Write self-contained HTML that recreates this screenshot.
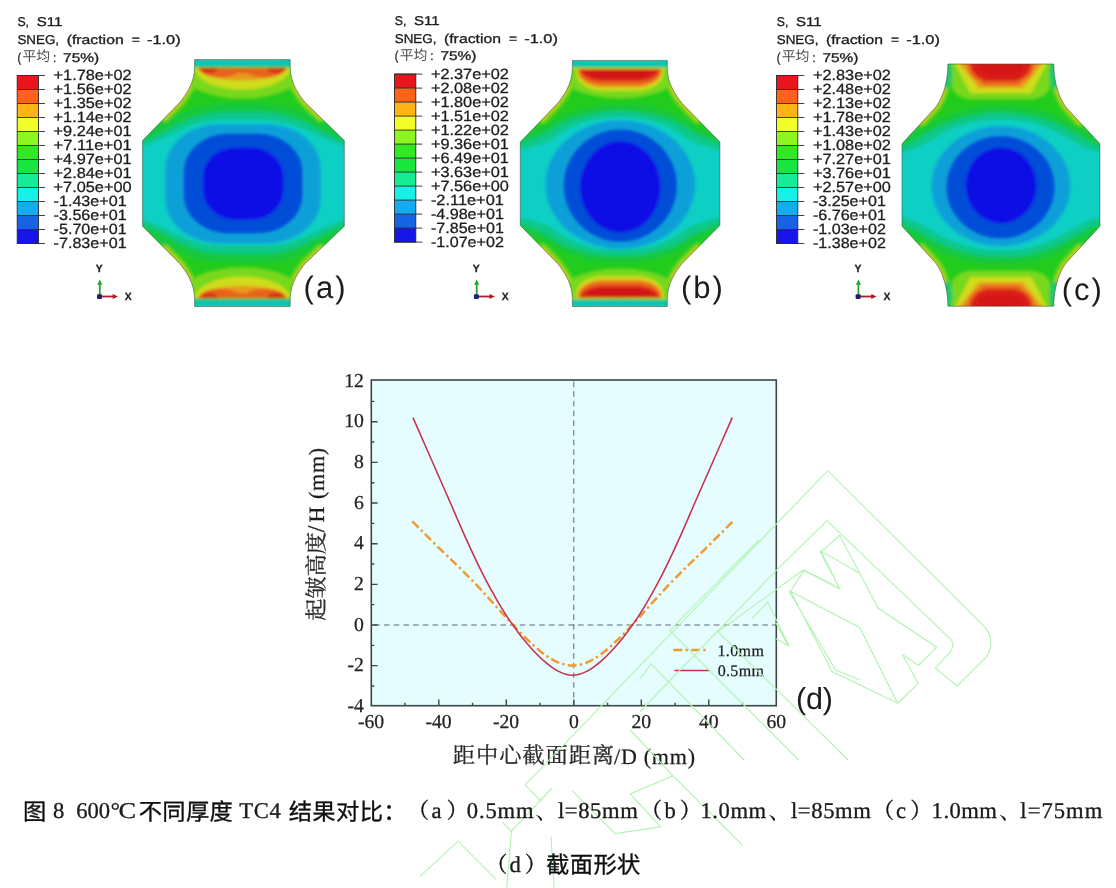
<!DOCTYPE html>
<html lang="zh">
<head>
<meta charset="utf-8">
<title>图8 600℃不同厚度TC4结果对比</title>
<style>
html,body{margin:0;padding:0;background:#fff;}
body{width:1116px;height:888px;overflow:hidden;font-family:"Liberation Sans",sans-serif;}
figure{margin:0;padding:0;width:1116px;height:888px;position:relative;}
svg{display:block;position:absolute;left:0;top:0;}
text{font-family:"Liberation Sans",sans-serif;fill:#1c1c1c;text-rendering:geometricPrecision;}
.lh{font-size:12.8px;stroke:#1c1c1c;stroke-width:.32px;}
.lv{font-size:14.8px;stroke:#1c1c1c;stroke-width:.28px;}
.tl{font-size:10.4px;font-weight:bold;fill:#222;stroke:#222;stroke-width:.25px;}
.pl{font-size:32.5px;fill:#1a1a1a;}
.serif{font-family:"Liberation Serif",serif;}
.tk{font-family:"Liberation Serif",serif;font-size:19.7px;fill:#222;stroke:#222;stroke-width:.25px;}
</style>
</head>
<body>
<figure>
<svg width="1116" height="888" viewBox="0 0 1116 888">
<rect width="1116" height="888" fill="#fff"/>
<filter id="jpg" x="0" y="0" width="1116" height="888" filterUnits="userSpaceOnUse"><feGaussianBlur stdDeviation="0.42"/></filter>
<g filter="url(#jpg)">
<!--PANELS-->
<defs><filter id="soft" x="-5%" y="-5%" width="110%" height="110%"><feGaussianBlur stdDeviation="1.6"/></filter></defs>
<clipPath id="clip-a"><path d="M194.6 59.6 H290.2 V67.4 C290.4 83.4 299.0 94.8 305.2 102.6 L344.3 140.5 V226.3 L305.2 263.5 C299.0 271.3 290.4 282.7 290.2 298.7 V306.5 H194.6 V298.7 C194.4 282.7 185.8 271.3 179.6 263.5 L142.6 226.3 V140.5 L179.6 102.6 C185.8 94.8 194.4 83.4 194.6 67.4 Z"/></clipPath>
<g clip-path="url(#clip-a)"><g filter="url(#soft)">
<rect x="112.6" y="29.6" width="261.7" height="306.9" fill="#24cc1c"/>
<path d="M130.0 136.0 C132.1 120.0 137.6 136.0 142.6 134.0 C147.6 132.0 154.1 127.2 160.0 124.0 C165.9 120.8 171.7 117.3 178.0 114.5 C184.3 111.7 191.2 108.8 198.0 107.0 C204.8 105.2 211.4 104.7 219.0 104.0 C226.6 103.3 235.3 103.0 243.4 103.0 C251.5 103.0 260.2 103.3 267.8 104.0 C275.4 104.7 282.0 105.2 288.8 107.0 C295.6 108.8 302.5 111.7 308.8 114.5 C315.1 117.3 320.9 120.8 326.8 124.0 C332.7 127.2 339.2 132.0 344.2 134.0 C349.2 136.0 354.7 120.0 356.8 136.0 C358.9 152.0 358.9 214.0 356.8 230.0 C354.7 246.0 349.2 230.0 344.2 232.0 C339.2 234.0 332.7 238.8 326.8 242.0 C320.9 245.2 315.1 248.7 308.8 251.5 C302.5 254.3 295.6 257.2 288.8 259.0 C282.0 260.8 279.4 261.5 267.8 262.0 C256.2 262.5 230.6 262.5 219.0 262.0 C207.4 261.5 204.8 260.8 198.0 259.0 C191.2 257.2 184.3 254.3 178.0 251.5 C171.7 248.7 165.9 245.2 160.0 242.0 C154.1 238.8 147.6 234.0 142.6 232.0 C137.6 230.0 132.1 246.0 130.0 230.0 C127.9 214.0 127.9 152.0 130.0 136.0 Z" fill="#14c83c"/>
<path d="M130.0 143.0 C132.1 129.2 137.0 142.4 142.6 140.5 C148.2 138.6 157.3 134.4 163.3 131.5 C169.3 128.6 172.7 126.0 178.6 123.3 C184.5 120.6 192.1 117.2 198.8 115.4 C205.5 113.6 211.6 112.9 219.0 112.2 C226.4 111.5 235.3 111.2 243.4 111.2 C251.5 111.2 260.4 111.5 267.8 112.2 C275.2 112.9 281.3 113.6 288.0 115.4 C294.7 117.2 302.3 120.6 308.2 123.3 C314.1 126.0 317.5 128.6 323.5 131.5 C329.5 134.4 338.7 138.6 344.2 140.5 C349.8 142.4 354.7 129.2 356.8 143.0 C358.9 156.8 358.9 209.2 356.8 223.0 C354.7 236.8 349.8 223.6 344.2 225.5 C338.7 227.4 329.5 231.6 323.5 234.5 C317.5 237.4 314.1 240.0 308.2 242.7 C302.3 245.4 294.7 248.8 288.0 250.6 C281.3 252.4 279.3 253.3 267.8 253.8 C256.3 254.3 230.5 254.3 219.0 253.8 C207.5 253.3 205.5 252.4 198.8 250.6 C192.1 248.8 184.5 245.4 178.6 242.7 C172.7 240.0 169.3 237.4 163.3 234.5 C157.3 231.6 148.1 227.4 142.6 225.5 C137.0 223.6 132.1 236.8 130.0 223.0 C127.9 209.2 127.9 156.8 130.0 143.0 Z" fill="#10c888"/>
<path d="M130.0 148.0 C132.1 136.0 137.6 147.4 142.6 146.0 C147.6 144.6 154.1 142.0 160.0 139.5 C165.9 137.0 171.7 133.7 178.0 131.0 C184.3 128.3 191.2 125.3 198.0 123.5 C204.8 121.7 211.4 121.0 219.0 120.3 C226.6 119.6 235.3 119.3 243.4 119.3 C251.5 119.3 260.2 119.6 267.8 120.3 C275.4 121.0 282.0 121.7 288.8 123.5 C295.6 125.3 302.5 128.3 308.8 131.0 C315.1 133.7 320.9 137.0 326.8 139.5 C332.7 142.0 339.2 144.6 344.2 146.0 C349.2 147.4 354.7 136.0 356.8 148.0 C358.9 160.0 358.9 206.0 356.8 218.0 C354.7 230.0 349.2 218.6 344.2 220.0 C339.2 221.4 332.7 224.0 326.8 226.5 C320.9 229.0 315.1 232.3 308.8 235.0 C302.5 237.7 295.6 240.7 288.8 242.5 C282.0 244.3 279.4 245.2 267.8 245.7 C256.2 246.2 230.6 246.2 219.0 245.7 C207.4 245.2 204.8 244.3 198.0 242.5 C191.2 240.7 184.3 237.7 178.0 235.0 C171.7 232.3 165.9 229.0 160.0 226.5 C154.1 224.0 147.6 221.4 142.6 220.0 C137.6 218.6 132.1 230.0 130.0 218.0 C127.9 206.0 127.9 160.0 130.0 148.0 Z" fill="#0ccfc4"/>
<rect x="165.4" y="124.2" width="155.2" height="119.2" rx="54.0" ry="44.0" fill="#0aa0d8"/>
<rect x="183.6" y="133.6" width="119.0" height="99.8" rx="44.0" ry="38.0" fill="#064ed8"/>
<rect x="203.0" y="147.4" width="80.6" height="72.4" rx="32.0" ry="30.0" fill="#0c10e6"/>
<path d="M194.6 67.4 C194.4 83.4 185.8 94.8 179.6 102.6 L164.8 117.8 M194.6 298.7 C194.4 282.7 185.8 271.3 179.6 263.5 L164.8 248.6 M290.2 67.4 C290.4 83.4 299.0 94.8 305.2 102.6 L320.8 117.8 M290.2 298.7 C290.4 282.7 299.0 271.3 305.2 263.5 L320.8 248.6" fill="none" stroke="#78d81c" stroke-width="9.2" stroke-linecap="round" opacity=".8"/>
<path d="M194.6 67.4 C194.4 83.4 185.8 94.8 179.6 102.6 L164.8 117.8 M194.6 298.7 C194.4 282.7 185.8 271.3 179.6 263.5 L164.8 248.6 M290.2 67.4 C290.4 83.4 299.0 94.8 305.2 102.6 L320.8 117.8 M290.2 298.7 C290.4 282.7 299.0 271.3 305.2 263.5 L320.8 248.6" fill="none" stroke="#cfdc1c" stroke-width="3.2" stroke-linecap="round"/>
<path d="M194.6 67.4 C194.4 83.4 185.8 94.8 179.6 102.6 L164.8 117.8 M194.6 298.7 C194.4 282.7 185.8 271.3 179.6 263.5 L164.8 248.6 M290.2 67.4 C290.4 83.4 299.0 94.8 305.2 102.6 L320.8 117.8 M290.2 298.7 C290.4 282.7 299.0 271.3 305.2 263.5 L320.8 248.6" fill="none" stroke="#e89a1c" stroke-width="1.3" stroke-linecap="round"/>
<ellipse cx="242.4" cy="67.8" rx="64.0" ry="30.5" fill="#78d81c"/>
<ellipse cx="242.4" cy="67.8" rx="47.5" ry="21.8" fill="#cfdc1c"/>
<ellipse cx="242.4" cy="67.8" rx="44.5" ry="12.6" fill="#e89a1c"/>
<ellipse cx="242.4" cy="67.8" rx="41.0" ry="5.4" fill="#e8621c"/>
<ellipse cx="219.9" cy="67.8" rx="21.0" ry="9.6" fill="#e8621c"/>
<ellipse cx="264.9" cy="67.8" rx="21.0" ry="9.6" fill="#e8621c"/>
<ellipse cx="208.9" cy="68.6" rx="8.6" ry="4.4" fill="#dc2a18"/>
<ellipse cx="275.9" cy="68.6" rx="8.6" ry="4.4" fill="#dc2a18"/>
<rect x="189.6" y="58.4" width="105.6" height="9.4" fill="#24cc1c"/>
<rect x="189.6" y="58.4" width="105.6" height="7.6" fill="#10c4b8"/>
<g transform="translate(0 366.10) scale(1 -1)"><ellipse cx="242.4" cy="67.8" rx="64.0" ry="30.5" fill="#78d81c"/><ellipse cx="242.4" cy="67.8" rx="47.5" ry="21.8" fill="#cfdc1c"/><ellipse cx="242.4" cy="67.8" rx="44.5" ry="12.6" fill="#e89a1c"/><ellipse cx="242.4" cy="67.8" rx="41.0" ry="5.4" fill="#e8621c"/><ellipse cx="219.9" cy="67.8" rx="21.0" ry="9.6" fill="#e8621c"/><ellipse cx="264.9" cy="67.8" rx="21.0" ry="9.6" fill="#e8621c"/><ellipse cx="208.9" cy="68.6" rx="8.6" ry="4.4" fill="#dc2a18"/><ellipse cx="275.9" cy="68.6" rx="8.6" ry="4.4" fill="#dc2a18"/><rect x="189.6" y="58.4" width="105.6" height="9.4" fill="#24cc1c"/><rect x="189.6" y="58.4" width="105.6" height="7.6" fill="#10c4b8"/></g>
</g></g>
<path d="M194.6 59.6 H290.2 V67.4 C290.4 83.4 299.0 94.8 305.2 102.6 L344.3 140.5 V226.3 L305.2 263.5 C299.0 271.3 290.4 282.7 290.2 298.7 V306.5 H194.6 V298.7 C194.4 282.7 185.8 271.3 179.6 263.5 L142.6 226.3 V140.5 L179.6 102.6 C185.8 94.8 194.4 83.4 194.6 67.4 Z" fill="none" stroke="#28503a" stroke-opacity=".6" stroke-width=".9"/>
<clipPath id="clip-b"><path d="M572.4 60.4 H667.3 V68.2 C667.5 84.2 676.1 95.8 682.3 103.6 L719.9 142.0 V225.4 L682.3 263.3 C676.1 271.1 667.5 282.7 667.3 298.7 V306.5 H572.4 V298.7 C572.2 282.7 563.6 271.1 557.4 263.3 L520.3 225.4 V142.0 L557.4 103.6 C563.6 95.8 572.2 84.2 572.4 68.2 Z"/></clipPath>
<g clip-path="url(#clip-b)"><g filter="url(#soft)">
<rect x="490.3" y="30.4" width="259.6" height="306.1" fill="#24cc1c"/>
<path d="M508.0 138.0 C510.1 122.5 515.0 137.7 520.3 136.0 C525.6 134.3 533.4 131.2 540.0 128.0 C546.6 124.8 553.3 120.1 560.0 117.0 C566.7 113.9 573.3 111.4 580.0 109.5 C586.7 107.6 593.3 106.3 600.0 105.5 C606.7 104.7 613.3 104.5 620.0 104.5 C626.7 104.5 633.3 104.7 640.0 105.5 C646.7 106.3 653.3 107.6 660.0 109.5 C666.7 111.4 673.3 113.9 680.0 117.0 C686.7 120.1 693.4 124.8 700.0 128.0 C706.6 131.2 714.4 134.3 719.7 136.0 C725.0 137.7 730.0 122.5 732.0 138.0 C734.0 153.5 734.0 213.7 732.0 229.2 C730.0 244.7 725.0 229.5 719.7 231.2 C714.4 232.9 706.6 236.0 700.0 239.2 C693.4 242.4 686.7 247.1 680.0 250.2 C673.3 253.3 666.7 255.8 660.0 257.7 C653.3 259.6 650.0 261.0 640.0 261.7 C630.0 262.4 610.0 262.4 600.0 261.7 C590.0 261.0 586.7 259.6 580.0 257.7 C573.3 255.8 566.7 253.3 560.0 250.2 C553.3 247.1 546.6 242.4 540.0 239.2 C533.4 236.0 525.6 232.9 520.3 231.2 C515.0 229.5 510.1 244.7 508.0 229.2 C505.9 213.7 505.9 153.5 508.0 138.0 Z" fill="#14c83c"/>
<path d="M508.0 146.0 C510.1 133.0 516.3 144.2 520.3 143.0 C524.3 141.8 528.0 140.4 532.0 138.8 C536.0 137.2 538.9 136.3 544.4 133.5 C549.9 130.7 557.9 124.8 564.7 121.8 C571.5 118.8 578.2 116.9 585.0 115.2 C591.8 113.5 599.4 112.5 605.2 111.7 C611.0 110.9 615.1 110.6 620.0 110.6 C624.9 110.6 629.0 110.9 634.8 111.7 C640.6 112.5 648.2 113.5 655.0 115.2 C661.8 116.9 668.5 118.8 675.3 121.8 C682.1 124.8 690.1 130.7 695.6 133.5 C701.1 136.3 704.0 137.2 708.0 138.8 C712.0 140.4 715.7 141.8 719.7 143.0 C723.7 144.2 730.0 133.0 732.0 146.0 C734.0 159.0 734.0 208.2 732.0 221.2 C730.0 234.2 723.7 223.0 719.7 224.2 C715.7 225.4 712.0 226.8 708.0 228.4 C704.0 230.0 701.1 230.9 695.6 233.7 C690.1 236.5 682.1 242.3 675.3 245.4 C668.5 248.4 661.8 250.3 655.0 252.0 C648.2 253.7 643.1 254.9 634.8 255.5 C626.5 256.1 613.5 256.1 605.2 255.5 C596.9 254.9 591.8 253.7 585.0 252.0 C578.2 250.3 571.5 248.4 564.7 245.4 C557.9 242.3 549.9 236.5 544.4 233.7 C538.9 230.9 536.0 230.0 532.0 228.4 C528.0 226.8 524.3 225.4 520.3 224.2 C516.3 223.0 510.1 234.2 508.0 221.2 C505.9 208.2 505.9 159.0 508.0 146.0 Z" fill="#10c888"/>
<path d="M508.0 152.0 C510.0 141.1 515.5 151.0 520.0 150.0 C524.5 149.0 530.1 147.6 535.0 146.0 C539.9 144.4 544.5 143.2 549.5 140.6 C554.5 138.0 558.8 133.5 564.7 130.4 C570.6 127.3 578.3 123.9 585.0 121.8 C591.7 119.7 599.2 118.8 605.0 118.0 C610.8 117.2 615.0 116.7 620.0 116.7 C625.0 116.7 629.2 117.2 635.0 118.0 C640.8 118.8 648.3 119.7 655.0 121.8 C661.7 123.9 669.4 127.3 675.3 130.4 C681.2 133.5 685.5 138.0 690.5 140.6 C695.5 143.2 700.1 144.4 705.0 146.0 C709.9 147.6 715.5 149.0 720.0 150.0 C724.5 151.0 730.0 141.1 732.0 152.0 C734.0 162.9 734.0 204.3 732.0 215.2 C730.0 226.1 724.5 216.2 720.0 217.2 C715.5 218.2 709.9 219.6 705.0 221.2 C700.1 222.8 695.5 224.0 690.5 226.6 C685.5 229.2 681.2 233.7 675.3 236.8 C669.4 239.9 661.7 243.3 655.0 245.4 C648.3 247.5 643.3 248.6 635.0 249.2 C626.7 249.8 613.3 249.8 605.0 249.2 C596.7 248.6 591.7 247.5 585.0 245.4 C578.3 243.3 570.6 239.9 564.7 236.8 C558.8 233.7 554.5 229.2 549.5 226.6 C544.5 224.0 539.9 222.8 535.0 221.2 C530.1 219.6 524.5 218.2 520.0 217.2 C515.5 216.2 510.0 226.1 508.0 215.2 C506.0 204.3 506.0 162.9 508.0 152.0 Z" fill="#0ccfc4"/>
<ellipse cx="620.3" cy="184.6" rx="75.0" ry="64.4" fill="#0aa0d8"/>
<ellipse cx="620.3" cy="185.6" rx="56.8" ry="56.4" fill="#064ed8"/>
<ellipse cx="620.3" cy="186.9" rx="40.3" ry="45.6" fill="#0c10e6"/>
<path d="M572.4 68.2 C572.2 84.2 563.6 95.8 557.4 103.6 L542.6 119.0 M572.4 298.7 C572.2 282.7 563.6 271.1 557.4 263.3 L542.6 248.1 M667.3 68.2 C667.5 84.2 676.1 95.8 682.3 103.6 L697.3 119.0 M667.3 298.7 C667.5 282.7 676.1 271.1 682.3 263.3 L697.3 248.1" fill="none" stroke="#78d81c" stroke-width="9.2" stroke-linecap="round" opacity=".8"/>
<path d="M572.4 68.2 C572.2 84.2 563.6 95.8 557.4 103.6 L542.6 119.0 M572.4 298.7 C572.2 282.7 563.6 271.1 557.4 263.3 L542.6 248.1 M667.3 68.2 C667.5 84.2 676.1 95.8 682.3 103.6 L697.3 119.0 M667.3 298.7 C667.5 282.7 676.1 271.1 682.3 263.3 L697.3 248.1" fill="none" stroke="#cfdc1c" stroke-width="3.2" stroke-linecap="round"/>
<path d="M572.4 68.2 C572.2 84.2 563.6 95.8 557.4 103.6 L542.6 119.0 M572.4 298.7 C572.2 282.7 563.6 271.1 557.4 263.3 L542.6 248.1 M667.3 68.2 C667.5 84.2 676.1 95.8 682.3 103.6 L697.3 119.0 M667.3 298.7 C667.5 282.7 676.1 271.1 682.3 263.3 L697.3 248.1" fill="none" stroke="#e89a1c" stroke-width="1.3" stroke-linecap="round"/>
<ellipse cx="619.8" cy="68.4" rx="64.0" ry="29.5" fill="#78d81c"/>
<rect x="576.3" y="54.4" width="87.0" height="36.3" rx="27.0" ry="17.0" fill="#cfdc1c"/>
<rect x="577.8" y="54.4" width="84.0" height="33.0" rx="26.0" ry="15.5" fill="#e89a1c"/>
<rect x="578.8" y="54.4" width="82.0" height="30.6" rx="25.0" ry="14.5" fill="#e8621c"/>
<rect x="580.0" y="54.4" width="79.6" height="26.6" rx="24.0" ry="13.0" fill="#da1c16"/>
<ellipse cx="619.8" cy="73.4" rx="31.0" ry="4.6" fill="#d01212"/>
<rect x="567.4" y="59.2" width="104.9" height="9.9" fill="#cfdc1c"/>
<rect x="567.4" y="59.2" width="104.9" height="8.8" fill="#24cc1c"/>
<rect x="567.4" y="59.2" width="104.9" height="7.4" fill="#10c4b8"/>
<g transform="translate(0 366.90) scale(1 -1)"><ellipse cx="619.8" cy="68.4" rx="64.0" ry="29.5" fill="#78d81c"/><rect x="576.3" y="54.4" width="87.0" height="36.3" rx="27.0" ry="17.0" fill="#cfdc1c"/><rect x="577.8" y="54.4" width="84.0" height="33.0" rx="26.0" ry="15.5" fill="#e89a1c"/><rect x="578.8" y="54.4" width="82.0" height="30.6" rx="25.0" ry="14.5" fill="#e8621c"/><rect x="580.0" y="54.4" width="79.6" height="26.6" rx="24.0" ry="13.0" fill="#da1c16"/><ellipse cx="619.8" cy="73.4" rx="31.0" ry="4.6" fill="#d01212"/><rect x="567.4" y="59.2" width="104.9" height="9.9" fill="#cfdc1c"/><rect x="567.4" y="59.2" width="104.9" height="8.8" fill="#24cc1c"/><rect x="567.4" y="59.2" width="104.9" height="7.4" fill="#10c4b8"/></g>
</g></g>
<path d="M572.4 60.4 H667.3 V68.2 C667.5 84.2 676.1 95.8 682.3 103.6 L719.9 142.0 V225.4 L682.3 263.3 C676.1 271.1 667.5 282.7 667.3 298.7 V306.5 H572.4 V298.7 C572.2 282.7 563.6 271.1 557.4 263.3 L520.3 225.4 V142.0 L557.4 103.6 C563.6 95.8 572.2 84.2 572.4 68.2 Z" fill="none" stroke="#28503a" stroke-opacity=".6" stroke-width=".9"/>
<clipPath id="clip-c"><path d="M947.9 64.0 H1053.8 V64.5 C1054.0 86.5 1061.3 101.3 1066.3 107.5 L1099.9 143.8 V226.2 L1066.3 262.7 C1061.3 268.9 1054.0 283.7 1053.8 305.7 V306.2 H947.9 V305.7 C947.7 283.7 940.4 268.9 935.4 262.7 L902.0 226.2 V143.8 L935.4 107.5 C940.4 101.3 947.7 86.5 947.9 64.5 Z"/></clipPath>
<g clip-path="url(#clip-c)"><g filter="url(#soft)">
<rect x="872.0" y="34.0" width="257.9" height="302.2" fill="#24cc1c"/>
<path d="M890.0 140.0 C892.0 124.7 897.0 139.8 902.0 138.0 C907.0 136.2 913.7 132.2 920.0 129.0 C926.3 125.8 933.3 121.5 940.0 118.5 C946.7 115.5 953.3 112.9 960.0 111.0 C966.7 109.1 973.2 107.8 980.0 107.0 C986.8 106.2 993.9 106.0 1000.9 106.0 C1007.9 106.0 1015.0 106.2 1021.8 107.0 C1028.6 107.8 1035.1 109.1 1041.8 111.0 C1048.5 112.9 1055.1 115.5 1061.8 118.5 C1068.5 121.5 1075.5 125.8 1081.8 129.0 C1088.1 132.2 1094.8 136.2 1099.8 138.0 C1104.8 139.8 1109.8 124.7 1111.8 140.0 C1113.8 155.3 1113.8 214.7 1111.8 230.0 C1109.8 245.3 1104.8 230.2 1099.8 232.0 C1094.8 233.8 1088.1 237.8 1081.8 241.0 C1075.5 244.2 1068.5 248.5 1061.8 251.5 C1055.1 254.5 1048.5 257.1 1041.8 259.0 C1035.1 260.9 1032.1 262.3 1021.8 263.0 C1011.5 263.7 990.3 263.7 980.0 263.0 C969.7 262.3 966.7 260.9 960.0 259.0 C953.3 257.1 946.7 254.5 940.0 251.5 C933.3 248.5 926.3 244.2 920.0 241.0 C913.7 237.8 907.0 233.8 902.0 232.0 C897.0 230.2 892.0 245.3 890.0 230.0 C888.0 214.7 888.0 155.3 890.0 140.0 Z" fill="#14c83c"/>
<path d="M890.0 147.5 C892.0 134.7 898.3 146.7 902.3 145.5 C906.3 144.3 910.0 142.5 914.0 140.5 C918.0 138.5 920.9 136.4 926.4 133.5 C931.9 130.6 939.9 126.1 946.7 123.3 C953.5 120.5 960.2 118.4 967.0 116.7 C973.8 115.0 981.6 113.9 987.2 113.2 C992.9 112.5 996.3 112.4 1000.9 112.4 C1005.5 112.4 1008.9 112.5 1014.6 113.2 C1020.2 113.9 1028.0 115.0 1034.8 116.7 C1041.5 118.4 1048.3 120.5 1055.1 123.3 C1061.9 126.1 1070.0 130.6 1075.4 133.5 C1080.9 136.4 1083.8 138.5 1087.8 140.5 C1091.8 142.5 1095.5 144.3 1099.5 145.5 C1103.5 146.7 1109.8 134.7 1111.8 147.5 C1113.8 160.3 1113.8 209.7 1111.8 222.5 C1109.8 235.3 1103.5 223.3 1099.5 224.5 C1095.5 225.7 1091.8 227.5 1087.8 229.5 C1083.8 231.5 1080.9 233.6 1075.4 236.5 C1070.0 239.4 1061.9 243.9 1055.1 246.7 C1048.3 249.5 1041.5 251.6 1034.8 253.3 C1028.0 255.0 1022.5 256.2 1014.6 256.8 C1006.7 257.4 995.1 257.4 987.2 256.8 C979.3 256.2 973.8 255.0 967.0 253.3 C960.2 251.6 953.5 249.5 946.7 246.7 C939.9 243.9 931.8 239.4 926.4 236.5 C920.9 233.6 918.0 231.5 914.0 229.5 C910.0 227.5 906.3 225.7 902.3 224.5 C898.3 223.3 892.0 235.3 890.0 222.5 C888.0 209.7 888.0 160.3 890.0 147.5 Z" fill="#10c888"/>
<path d="M890.0 155.0 C892.0 144.7 898.0 154.0 902.0 153.0 C906.0 152.0 909.9 150.7 914.0 149.0 C918.1 147.3 920.9 145.5 926.4 142.6 C931.9 139.7 939.9 134.5 946.7 131.4 C953.5 128.3 960.3 125.7 967.0 123.8 C973.7 121.9 981.4 121.0 987.0 120.3 C992.6 119.6 996.3 119.5 1000.9 119.5 C1005.5 119.5 1009.1 119.6 1014.8 120.3 C1020.4 121.0 1028.1 121.9 1034.8 123.8 C1041.5 125.7 1048.3 128.3 1055.1 131.4 C1061.9 134.5 1070.0 139.7 1075.4 142.6 C1080.9 145.5 1083.7 147.3 1087.8 149.0 C1091.9 150.7 1095.8 152.0 1099.8 153.0 C1103.8 154.0 1109.8 144.7 1111.8 155.0 C1113.8 165.3 1113.8 204.7 1111.8 215.0 C1109.8 225.3 1103.8 216.0 1099.8 217.0 C1095.8 218.0 1091.9 219.3 1087.8 221.0 C1083.7 222.7 1080.9 224.5 1075.4 227.4 C1070.0 230.3 1061.9 235.5 1055.1 238.6 C1048.3 241.7 1041.5 244.3 1034.8 246.2 C1028.1 248.0 1022.8 249.1 1014.8 249.7 C1006.8 250.3 995.0 250.3 987.0 249.7 C979.0 249.1 973.7 248.0 967.0 246.2 C960.3 244.3 953.5 241.7 946.7 238.6 C939.9 235.5 931.8 230.3 926.4 227.4 C920.9 224.5 918.1 222.7 914.0 221.0 C909.9 219.3 906.0 218.0 902.0 217.0 C898.0 216.0 892.0 225.3 890.0 215.0 C888.0 204.7 888.0 165.3 890.0 155.0 Z" fill="#0ccfc4"/>
<ellipse cx="1000.9" cy="186.0" rx="69.6" ry="60.2" fill="#0aa0d8"/>
<ellipse cx="1000.5" cy="187.2" rx="54.3" ry="51.4" fill="#064ed8"/>
<ellipse cx="1001.1" cy="185.4" rx="35.4" ry="38.0" fill="#0c10e6"/>
<path d="M947.9 64.5 C947.7 86.5 940.4 101.3 935.4 107.5 L922.0 122.0 M947.9 305.7 C947.7 283.7 940.4 268.9 935.4 262.7 L922.0 248.1 M1053.8 64.5 C1054.0 86.5 1061.3 101.3 1066.3 107.5 L1079.7 122.0 M1053.8 305.7 C1054.0 283.7 1061.3 268.9 1066.3 262.7 L1079.7 248.1" fill="none" stroke="#78d81c" stroke-width="9.2" stroke-linecap="round" opacity=".8"/>
<path d="M947.9 64.5 C947.7 86.5 940.4 101.3 935.4 107.5 L922.0 122.0 M947.9 305.7 C947.7 283.7 940.4 268.9 935.4 262.7 L922.0 248.1 M1053.8 64.5 C1054.0 86.5 1061.3 101.3 1066.3 107.5 L1079.7 122.0 M1053.8 305.7 C1054.0 283.7 1061.3 268.9 1066.3 262.7 L1079.7 248.1" fill="none" stroke="#cfdc1c" stroke-width="3.2" stroke-linecap="round"/>
<path d="M947.9 64.5 C947.7 86.5 940.4 101.3 935.4 107.5 L922.0 122.0 M947.9 305.7 C947.7 283.7 940.4 268.9 935.4 262.7 L922.0 248.1 M1053.8 64.5 C1054.0 86.5 1061.3 101.3 1066.3 107.5 L1079.7 122.0 M1053.8 305.7 C1054.0 283.7 1061.3 268.9 1066.3 262.7 L1079.7 248.1" fill="none" stroke="#e89a1c" stroke-width="1.3" stroke-linecap="round"/>
<rect x="951.9" y="52.0" width="97.9" height="47.3" rx="22.0" ry="14.0" fill="#78d81c"/>
<path d="M954.9 58.0 L1046.8 58.0 L1029.8 90.6 L971.9 90.6 Z" fill="#cfdc1c" stroke="#cfdc1c" stroke-width="5" stroke-linejoin="round"/>
<path d="M957.9 58.0 L1043.8 58.0 L1021.8 85.5 L979.9 85.5 Z" fill="#e89a1c" stroke="#e89a1c" stroke-width="5" stroke-linejoin="round"/>
<path d="M963.9 58.0 L1037.8 58.0 L1017.8 82.5 L983.9 82.5 Z" fill="#e8621c" stroke="#e8621c" stroke-width="5" stroke-linejoin="round"/>
<rect x="967.3" y="44.0" width="67.0" height="39.6" rx="22.0" ry="20.0" fill="#e8621c"/>
<rect x="970.6" y="44.0" width="60.4" height="37.0" rx="20.0" ry="18.0" fill="#da1c16"/>
<ellipse cx="1000.8" cy="68.0" rx="22.0" ry="7.0" fill="#d41414"/>
<ellipse cx="946.9" cy="74.0" rx="5.5" ry="15.0" fill="#22c86a"/>
<ellipse cx="1054.8" cy="74.0" rx="5.5" ry="15.0" fill="#22c86a"/>
<g transform="translate(0 370.20) scale(1 -1)"><rect x="951.9" y="52.0" width="97.9" height="47.3" rx="22.0" ry="14.0" fill="#78d81c"/><path d="M954.9 58.0 L1046.8 58.0 L1029.8 90.6 L971.9 90.6 Z" fill="#cfdc1c" stroke="#cfdc1c" stroke-width="5" stroke-linejoin="round"/><path d="M957.9 58.0 L1043.8 58.0 L1021.8 85.5 L979.9 85.5 Z" fill="#e89a1c" stroke="#e89a1c" stroke-width="5" stroke-linejoin="round"/><path d="M963.9 58.0 L1037.8 58.0 L1017.8 82.5 L983.9 82.5 Z" fill="#e8621c" stroke="#e8621c" stroke-width="5" stroke-linejoin="round"/><rect x="967.3" y="44.0" width="67.0" height="39.6" rx="22.0" ry="20.0" fill="#e8621c"/><rect x="970.6" y="44.0" width="60.4" height="37.0" rx="20.0" ry="18.0" fill="#da1c16"/><ellipse cx="1000.8" cy="68.0" rx="22.0" ry="7.0" fill="#d41414"/><ellipse cx="946.9" cy="74.0" rx="5.5" ry="15.0" fill="#22c86a"/><ellipse cx="1054.8" cy="74.0" rx="5.5" ry="15.0" fill="#22c86a"/></g>
</g></g>
<path d="M947.9 64.0 H1053.8 V64.5 C1054.0 86.5 1061.3 101.3 1066.3 107.5 L1099.9 143.8 V226.2 L1066.3 262.7 C1061.3 268.9 1054.0 283.7 1053.8 305.7 V306.2 H947.9 V305.7 C947.7 283.7 940.4 268.9 935.4 262.7 L902.0 226.2 V143.8 L935.4 107.5 C940.4 101.3 947.7 86.5 947.9 64.5 Z" fill="none" stroke="#28503a" stroke-opacity=".6" stroke-width=".9"/>
<g class="legend" transform="translate(0.0 0.0)">
<text class="lh" x="17.4" y="26.3" textLength="11.6" lengthAdjust="spacingAndGlyphs">S,</text>
<text class="lh" x="36.7" y="26.3" textLength="25.7" lengthAdjust="spacingAndGlyphs">S11</text>
<text class="lh" x="17.4" y="44.0" textLength="41.7" lengthAdjust="spacingAndGlyphs">SNEG,</text>
<text class="lh" x="66.7" y="44.0" textLength="57.0" lengthAdjust="spacingAndGlyphs">(fraction</text>
<text class="lh" x="131.7" y="44.0" textLength="8.1" lengthAdjust="spacingAndGlyphs">=</text>
<text class="lh" x="147.0" y="44.0" textLength="33.6" lengthAdjust="spacingAndGlyphs">-1.0)</text>
<text class="lh" x="17.4" y="61.6" textLength="3.6" lengthAdjust="spacingAndGlyphs">(</text>
<text x="22.40" y="61.20" style="font-family:'Liberation Sans','Noto Sans CJK SC',sans-serif;font-size:13.90px;fill:#4a4a4a">平均</text>
<text class="lh" x="53.2" y="61.6" textLength="2.8" lengthAdjust="spacingAndGlyphs">:</text>
<text class="lh" x="63.1" y="61.6" textLength="36.0" lengthAdjust="spacingAndGlyphs">75%)</text>
<rect x="17.2" y="75.50" width="21.3" height="14.00" fill="#e8141a"/>
<rect x="17.2" y="89.50" width="21.3" height="14.00" fill="#ff6418"/>
<rect x="17.2" y="103.50" width="21.3" height="14.00" fill="#ffb414"/>
<rect x="17.2" y="117.50" width="21.3" height="14.00" fill="#f2ff28"/>
<rect x="17.2" y="131.50" width="21.3" height="14.00" fill="#8cf520"/>
<rect x="17.2" y="145.50" width="21.3" height="14.00" fill="#30e820"/>
<rect x="17.2" y="159.50" width="21.3" height="14.00" fill="#14e63c"/>
<rect x="17.2" y="173.50" width="21.3" height="14.00" fill="#14eb96"/>
<rect x="17.2" y="187.50" width="21.3" height="14.00" fill="#14f0e6"/>
<rect x="17.2" y="201.50" width="21.3" height="14.00" fill="#14aaf0"/>
<rect x="17.2" y="215.50" width="21.3" height="14.00" fill="#1464e6"/>
<rect x="17.2" y="229.50" width="21.3" height="14.00" fill="#1414e6"/>
<rect x="17.2" y="75.50" width="21.3" height="168.00" fill="none" stroke="#2a2a2a" stroke-width="0.9"/>
<line x1="17.2" x2="45" y1="75.50" y2="75.50" stroke="#2a2a2a" stroke-width="0.9"/>
<line x1="17.2" x2="45" y1="89.50" y2="89.50" stroke="#2a2a2a" stroke-width="0.9"/>
<line x1="17.2" x2="45" y1="103.50" y2="103.50" stroke="#2a2a2a" stroke-width="0.9"/>
<line x1="17.2" x2="45" y1="117.50" y2="117.50" stroke="#2a2a2a" stroke-width="0.9"/>
<line x1="17.2" x2="45" y1="131.50" y2="131.50" stroke="#2a2a2a" stroke-width="0.9"/>
<line x1="17.2" x2="45" y1="145.50" y2="145.50" stroke="#2a2a2a" stroke-width="0.9"/>
<line x1="17.2" x2="45" y1="159.50" y2="159.50" stroke="#2a2a2a" stroke-width="0.9"/>
<line x1="17.2" x2="45" y1="173.50" y2="173.50" stroke="#2a2a2a" stroke-width="0.9"/>
<line x1="17.2" x2="45" y1="187.50" y2="187.50" stroke="#2a2a2a" stroke-width="0.9"/>
<line x1="17.2" x2="45" y1="201.50" y2="201.50" stroke="#2a2a2a" stroke-width="0.9"/>
<line x1="17.2" x2="45" y1="215.50" y2="215.50" stroke="#2a2a2a" stroke-width="0.9"/>
<line x1="17.2" x2="45" y1="229.50" y2="229.50" stroke="#2a2a2a" stroke-width="0.9"/>
<line x1="17.2" x2="45" y1="243.50" y2="243.50" stroke="#2a2a2a" stroke-width="0.9"/>
<text class="lv" x="53.6" y="80.00" textLength="78.0" lengthAdjust="spacingAndGlyphs">+1.78e+02</text>
<text class="lv" x="53.6" y="94.00" textLength="78.0" lengthAdjust="spacingAndGlyphs">+1.56e+02</text>
<text class="lv" x="53.6" y="108.00" textLength="78.0" lengthAdjust="spacingAndGlyphs">+1.35e+02</text>
<text class="lv" x="53.6" y="122.00" textLength="78.0" lengthAdjust="spacingAndGlyphs">+1.14e+02</text>
<text class="lv" x="53.6" y="136.00" textLength="78.0" lengthAdjust="spacingAndGlyphs">+9.24e+01</text>
<text class="lv" x="53.6" y="150.00" textLength="78.0" lengthAdjust="spacingAndGlyphs">+7.11e+01</text>
<text class="lv" x="53.6" y="164.00" textLength="78.0" lengthAdjust="spacingAndGlyphs">+4.97e+01</text>
<text class="lv" x="53.6" y="178.00" textLength="78.0" lengthAdjust="spacingAndGlyphs">+2.84e+01</text>
<text class="lv" x="53.6" y="192.00" textLength="78.0" lengthAdjust="spacingAndGlyphs">+7.05e+00</text>
<text class="lv" x="53.6" y="206.00" textLength="73.0" lengthAdjust="spacingAndGlyphs">-1.43e+01</text>
<text class="lv" x="53.6" y="220.00" textLength="73.0" lengthAdjust="spacingAndGlyphs">-3.56e+01</text>
<text class="lv" x="53.6" y="234.00" textLength="73.0" lengthAdjust="spacingAndGlyphs">-5.70e+01</text>
<text class="lv" x="53.6" y="248.00" textLength="73.0" lengthAdjust="spacingAndGlyphs">-7.83e+01</text>
</g>
<g class="triad" transform="translate(0.0 0)">
<text class="tl" x="99.3" y="271.6" text-anchor="middle">Y</text>
<text class="tl" x="128.3" y="300.2" text-anchor="middle">X</text>
<path d="M99.8 296 V283" stroke="#25a52c" stroke-width="1.8" fill="none"/>
<path d="M99.8 279.6 l2.6 5.2 h-5.2 z" fill="#25a52c"/>
<path d="M100 296.5 H113.5" stroke="#b01c24" stroke-width="1.8" fill="none"/>
<path d="M118 296.5 l-5.4 -2.5 v5 z" fill="#b01c24"/>
<rect x="97" y="294.2" width="5" height="4.8" rx="1" fill="#1d2470"/>
</g>
<g class="legend" transform="translate(377.3 -1.4)">
<text class="lh" x="17.4" y="26.3" textLength="11.6" lengthAdjust="spacingAndGlyphs">S,</text>
<text class="lh" x="36.7" y="26.3" textLength="25.7" lengthAdjust="spacingAndGlyphs">S11</text>
<text class="lh" x="17.4" y="44.0" textLength="41.7" lengthAdjust="spacingAndGlyphs">SNEG,</text>
<text class="lh" x="66.7" y="44.0" textLength="57.0" lengthAdjust="spacingAndGlyphs">(fraction</text>
<text class="lh" x="131.7" y="44.0" textLength="8.1" lengthAdjust="spacingAndGlyphs">=</text>
<text class="lh" x="147.0" y="44.0" textLength="33.6" lengthAdjust="spacingAndGlyphs">-1.0)</text>
<text class="lh" x="17.4" y="61.6" textLength="3.6" lengthAdjust="spacingAndGlyphs">(</text>
<text x="22.40" y="61.20" style="font-family:'Liberation Sans','Noto Sans CJK SC',sans-serif;font-size:13.90px;fill:#4a4a4a">平均</text>
<text class="lh" x="53.2" y="61.6" textLength="2.8" lengthAdjust="spacingAndGlyphs">:</text>
<text class="lh" x="63.1" y="61.6" textLength="36.0" lengthAdjust="spacingAndGlyphs">75%)</text>
<rect x="17.2" y="75.50" width="21.3" height="14.00" fill="#e8141a"/>
<rect x="17.2" y="89.50" width="21.3" height="14.00" fill="#ff6418"/>
<rect x="17.2" y="103.50" width="21.3" height="14.00" fill="#ffb414"/>
<rect x="17.2" y="117.50" width="21.3" height="14.00" fill="#f2ff28"/>
<rect x="17.2" y="131.50" width="21.3" height="14.00" fill="#8cf520"/>
<rect x="17.2" y="145.50" width="21.3" height="14.00" fill="#30e820"/>
<rect x="17.2" y="159.50" width="21.3" height="14.00" fill="#14e63c"/>
<rect x="17.2" y="173.50" width="21.3" height="14.00" fill="#14eb96"/>
<rect x="17.2" y="187.50" width="21.3" height="14.00" fill="#14f0e6"/>
<rect x="17.2" y="201.50" width="21.3" height="14.00" fill="#14aaf0"/>
<rect x="17.2" y="215.50" width="21.3" height="14.00" fill="#1464e6"/>
<rect x="17.2" y="229.50" width="21.3" height="14.00" fill="#1414e6"/>
<rect x="17.2" y="75.50" width="21.3" height="168.00" fill="none" stroke="#2a2a2a" stroke-width="0.9"/>
<line x1="17.2" x2="45" y1="75.50" y2="75.50" stroke="#2a2a2a" stroke-width="0.9"/>
<line x1="17.2" x2="45" y1="89.50" y2="89.50" stroke="#2a2a2a" stroke-width="0.9"/>
<line x1="17.2" x2="45" y1="103.50" y2="103.50" stroke="#2a2a2a" stroke-width="0.9"/>
<line x1="17.2" x2="45" y1="117.50" y2="117.50" stroke="#2a2a2a" stroke-width="0.9"/>
<line x1="17.2" x2="45" y1="131.50" y2="131.50" stroke="#2a2a2a" stroke-width="0.9"/>
<line x1="17.2" x2="45" y1="145.50" y2="145.50" stroke="#2a2a2a" stroke-width="0.9"/>
<line x1="17.2" x2="45" y1="159.50" y2="159.50" stroke="#2a2a2a" stroke-width="0.9"/>
<line x1="17.2" x2="45" y1="173.50" y2="173.50" stroke="#2a2a2a" stroke-width="0.9"/>
<line x1="17.2" x2="45" y1="187.50" y2="187.50" stroke="#2a2a2a" stroke-width="0.9"/>
<line x1="17.2" x2="45" y1="201.50" y2="201.50" stroke="#2a2a2a" stroke-width="0.9"/>
<line x1="17.2" x2="45" y1="215.50" y2="215.50" stroke="#2a2a2a" stroke-width="0.9"/>
<line x1="17.2" x2="45" y1="229.50" y2="229.50" stroke="#2a2a2a" stroke-width="0.9"/>
<line x1="17.2" x2="45" y1="243.50" y2="243.50" stroke="#2a2a2a" stroke-width="0.9"/>
<text class="lv" x="53.6" y="80.00" textLength="78.0" lengthAdjust="spacingAndGlyphs">+2.37e+02</text>
<text class="lv" x="53.6" y="94.00" textLength="78.0" lengthAdjust="spacingAndGlyphs">+2.08e+02</text>
<text class="lv" x="53.6" y="108.00" textLength="78.0" lengthAdjust="spacingAndGlyphs">+1.80e+02</text>
<text class="lv" x="53.6" y="122.00" textLength="78.0" lengthAdjust="spacingAndGlyphs">+1.51e+02</text>
<text class="lv" x="53.6" y="136.00" textLength="78.0" lengthAdjust="spacingAndGlyphs">+1.22e+02</text>
<text class="lv" x="53.6" y="150.00" textLength="78.0" lengthAdjust="spacingAndGlyphs">+9.36e+01</text>
<text class="lv" x="53.6" y="164.00" textLength="78.0" lengthAdjust="spacingAndGlyphs">+6.49e+01</text>
<text class="lv" x="53.6" y="178.00" textLength="78.0" lengthAdjust="spacingAndGlyphs">+3.63e+01</text>
<text class="lv" x="53.6" y="192.00" textLength="78.0" lengthAdjust="spacingAndGlyphs">+7.56e+00</text>
<text class="lv" x="53.6" y="206.00" textLength="73.0" lengthAdjust="spacingAndGlyphs">-2.11e+01</text>
<text class="lv" x="53.6" y="220.00" textLength="73.0" lengthAdjust="spacingAndGlyphs">-4.98e+01</text>
<text class="lv" x="53.6" y="234.00" textLength="73.0" lengthAdjust="spacingAndGlyphs">-7.85e+01</text>
<text class="lv" x="53.6" y="248.00" textLength="73.0" lengthAdjust="spacingAndGlyphs">-1.07e+02</text>
</g>
<g class="triad" transform="translate(376.9 0)">
<text class="tl" x="99.3" y="271.6" text-anchor="middle">Y</text>
<text class="tl" x="128.3" y="300.2" text-anchor="middle">X</text>
<path d="M99.8 296 V283" stroke="#25a52c" stroke-width="1.8" fill="none"/>
<path d="M99.8 279.6 l2.6 5.2 h-5.2 z" fill="#25a52c"/>
<path d="M100 296.5 H113.5" stroke="#b01c24" stroke-width="1.8" fill="none"/>
<path d="M118 296.5 l-5.4 -2.5 v5 z" fill="#b01c24"/>
<rect x="97" y="294.2" width="5" height="4.8" rx="1" fill="#1d2470"/>
</g>
<g class="legend" transform="translate(759.3 0.0)">
<text class="lh" x="17.4" y="26.3" textLength="11.6" lengthAdjust="spacingAndGlyphs">S,</text>
<text class="lh" x="36.7" y="26.3" textLength="25.7" lengthAdjust="spacingAndGlyphs">S11</text>
<text class="lh" x="17.4" y="44.0" textLength="41.7" lengthAdjust="spacingAndGlyphs">SNEG,</text>
<text class="lh" x="66.7" y="44.0" textLength="57.0" lengthAdjust="spacingAndGlyphs">(fraction</text>
<text class="lh" x="131.7" y="44.0" textLength="8.1" lengthAdjust="spacingAndGlyphs">=</text>
<text class="lh" x="147.0" y="44.0" textLength="33.6" lengthAdjust="spacingAndGlyphs">-1.0)</text>
<text class="lh" x="17.4" y="61.6" textLength="3.6" lengthAdjust="spacingAndGlyphs">(</text>
<text x="22.40" y="61.20" style="font-family:'Liberation Sans','Noto Sans CJK SC',sans-serif;font-size:13.90px;fill:#4a4a4a">平均</text>
<text class="lh" x="53.2" y="61.6" textLength="2.8" lengthAdjust="spacingAndGlyphs">:</text>
<text class="lh" x="63.1" y="61.6" textLength="36.0" lengthAdjust="spacingAndGlyphs">75%)</text>
<rect x="17.2" y="75.50" width="21.3" height="14.00" fill="#e8141a"/>
<rect x="17.2" y="89.50" width="21.3" height="14.00" fill="#ff6418"/>
<rect x="17.2" y="103.50" width="21.3" height="14.00" fill="#ffb414"/>
<rect x="17.2" y="117.50" width="21.3" height="14.00" fill="#f2ff28"/>
<rect x="17.2" y="131.50" width="21.3" height="14.00" fill="#8cf520"/>
<rect x="17.2" y="145.50" width="21.3" height="14.00" fill="#30e820"/>
<rect x="17.2" y="159.50" width="21.3" height="14.00" fill="#14e63c"/>
<rect x="17.2" y="173.50" width="21.3" height="14.00" fill="#14eb96"/>
<rect x="17.2" y="187.50" width="21.3" height="14.00" fill="#14f0e6"/>
<rect x="17.2" y="201.50" width="21.3" height="14.00" fill="#14aaf0"/>
<rect x="17.2" y="215.50" width="21.3" height="14.00" fill="#1464e6"/>
<rect x="17.2" y="229.50" width="21.3" height="14.00" fill="#1414e6"/>
<rect x="17.2" y="75.50" width="21.3" height="168.00" fill="none" stroke="#2a2a2a" stroke-width="0.9"/>
<line x1="17.2" x2="45" y1="75.50" y2="75.50" stroke="#2a2a2a" stroke-width="0.9"/>
<line x1="17.2" x2="45" y1="89.50" y2="89.50" stroke="#2a2a2a" stroke-width="0.9"/>
<line x1="17.2" x2="45" y1="103.50" y2="103.50" stroke="#2a2a2a" stroke-width="0.9"/>
<line x1="17.2" x2="45" y1="117.50" y2="117.50" stroke="#2a2a2a" stroke-width="0.9"/>
<line x1="17.2" x2="45" y1="131.50" y2="131.50" stroke="#2a2a2a" stroke-width="0.9"/>
<line x1="17.2" x2="45" y1="145.50" y2="145.50" stroke="#2a2a2a" stroke-width="0.9"/>
<line x1="17.2" x2="45" y1="159.50" y2="159.50" stroke="#2a2a2a" stroke-width="0.9"/>
<line x1="17.2" x2="45" y1="173.50" y2="173.50" stroke="#2a2a2a" stroke-width="0.9"/>
<line x1="17.2" x2="45" y1="187.50" y2="187.50" stroke="#2a2a2a" stroke-width="0.9"/>
<line x1="17.2" x2="45" y1="201.50" y2="201.50" stroke="#2a2a2a" stroke-width="0.9"/>
<line x1="17.2" x2="45" y1="215.50" y2="215.50" stroke="#2a2a2a" stroke-width="0.9"/>
<line x1="17.2" x2="45" y1="229.50" y2="229.50" stroke="#2a2a2a" stroke-width="0.9"/>
<line x1="17.2" x2="45" y1="243.50" y2="243.50" stroke="#2a2a2a" stroke-width="0.9"/>
<text class="lv" x="53.6" y="80.00" textLength="78.0" lengthAdjust="spacingAndGlyphs">+2.83e+02</text>
<text class="lv" x="53.6" y="94.00" textLength="78.0" lengthAdjust="spacingAndGlyphs">+2.48e+02</text>
<text class="lv" x="53.6" y="108.00" textLength="78.0" lengthAdjust="spacingAndGlyphs">+2.13e+02</text>
<text class="lv" x="53.6" y="122.00" textLength="78.0" lengthAdjust="spacingAndGlyphs">+1.78e+02</text>
<text class="lv" x="53.6" y="136.00" textLength="78.0" lengthAdjust="spacingAndGlyphs">+1.43e+02</text>
<text class="lv" x="53.6" y="150.00" textLength="78.0" lengthAdjust="spacingAndGlyphs">+1.08e+02</text>
<text class="lv" x="53.6" y="164.00" textLength="78.0" lengthAdjust="spacingAndGlyphs">+7.27e+01</text>
<text class="lv" x="53.6" y="178.00" textLength="78.0" lengthAdjust="spacingAndGlyphs">+3.76e+01</text>
<text class="lv" x="53.6" y="192.00" textLength="78.0" lengthAdjust="spacingAndGlyphs">+2.57e+00</text>
<text class="lv" x="53.6" y="206.00" textLength="73.0" lengthAdjust="spacingAndGlyphs">-3.25e+01</text>
<text class="lv" x="53.6" y="220.00" textLength="73.0" lengthAdjust="spacingAndGlyphs">-6.76e+01</text>
<text class="lv" x="53.6" y="234.00" textLength="73.0" lengthAdjust="spacingAndGlyphs">-1.03e+02</text>
<text class="lv" x="53.6" y="248.00" textLength="73.0" lengthAdjust="spacingAndGlyphs">-1.38e+02</text>
</g>
<g class="triad" transform="translate(758.6 0)">
<text class="tl" x="99.3" y="271.6" text-anchor="middle">Y</text>
<text class="tl" x="128.3" y="300.2" text-anchor="middle">X</text>
<path d="M99.8 296 V283" stroke="#25a52c" stroke-width="1.8" fill="none"/>
<path d="M99.8 279.6 l2.6 5.2 h-5.2 z" fill="#25a52c"/>
<path d="M100 296.5 H113.5" stroke="#b01c24" stroke-width="1.8" fill="none"/>
<path d="M118 296.5 l-5.4 -2.5 v5 z" fill="#b01c24"/>
<rect x="97" y="294.2" width="5" height="4.8" rx="1" fill="#1d2470"/>
</g>
<text x="303.58" y="298.00" style="font-family:'Liberation Sans',sans-serif;font-size:31.00px;letter-spacing:2.03px" fill="#161616">(a)</text>
<text x="680.88" y="298.20" style="font-family:'Liberation Sans',sans-serif;font-size:31.00px;letter-spacing:2.08px" fill="#161616">(b)</text>
<text x="1061.78" y="299.70" style="font-family:'Liberation Sans',sans-serif;font-size:31.00px;letter-spacing:2.00px" fill="#161616">(c)</text>
<!--CHART-->
<g class="chart">
<rect x="371.3" y="380.0" width="405.0" height="325.7" fill="#e6fdff"/>
<path d="M374.3 625.0 H776.3" stroke="#5a6674" stroke-width="1.0" stroke-dasharray="5.6 4.1" fill="none"/>
<path d="M573.8 381.5 V705.7" stroke="#5a6674" stroke-width="1.0" stroke-dasharray="5.6 4.1" fill="none"/>
<path d="M412.31 521.32 C414.27 523.28 419.90 528.91 424.12 533.11 C428.34 537.31 433.12 542.11 437.62 546.53 C442.12 550.94 447.74 556.34 451.12 559.60 C454.49 562.86 455.62 563.91 457.87 566.10 C460.12 568.30 462.37 570.52 464.62 572.77 C466.87 575.03 469.12 577.32 471.37 579.64 C473.62 581.97 475.87 584.33 478.12 586.72 C480.37 589.11 482.62 591.55 484.87 594.00 C487.12 596.45 489.37 598.93 491.62 601.42 C493.87 603.90 496.12 606.41 498.37 608.90 C500.62 611.39 502.87 613.89 505.12 616.36 C507.37 618.83 509.62 621.29 511.87 623.70 C514.12 626.11 516.37 628.50 518.62 630.83 C520.87 633.17 523.12 635.47 525.37 637.69 C527.62 639.91 529.87 642.08 532.12 644.15 C534.37 646.22 536.62 648.23 538.87 650.09 C541.12 651.94 543.37 653.71 545.62 655.29 C547.87 656.88 550.12 658.34 552.37 659.60 C554.62 660.86 556.87 661.96 559.12 662.83 C561.37 663.70 563.62 664.38 565.87 664.83 C568.12 665.27 570.37 665.52 572.62 665.52 C574.87 665.52 577.12 665.27 579.37 664.83 C581.62 664.38 583.87 663.70 586.12 662.83 C588.37 661.96 590.62 660.86 592.87 659.60 C595.12 658.34 597.37 656.88 599.62 655.29 C601.87 653.71 604.12 651.94 606.37 650.09 C608.62 648.23 610.87 646.22 613.12 644.15 C615.37 642.08 617.62 639.91 619.87 637.69 C622.12 635.47 624.37 633.17 626.62 630.83 C628.87 628.50 631.12 626.11 633.37 623.70 C635.62 621.29 637.87 618.83 640.12 616.36 C642.37 613.89 644.62 611.39 646.87 608.90 C649.12 606.41 651.37 603.90 653.62 601.42 C655.87 598.93 658.12 596.45 660.37 594.00 C662.62 591.55 664.87 589.11 667.12 586.72 C669.37 584.33 671.62 581.97 673.87 579.64 C676.12 577.32 678.37 575.03 680.62 572.77 C682.87 570.52 685.12 568.30 687.37 566.10 C689.62 563.91 690.74 562.86 694.12 559.60 C697.49 556.34 703.12 550.94 707.62 546.53 C712.12 542.11 716.90 537.31 721.12 533.11 C725.34 528.91 730.96 523.28 732.93 521.32" fill="none" stroke="#ee9c32" stroke-width="2.5" stroke-dasharray="8.8 3.3 2.4 3.3"/>
<path d="M412.98 417.63 C414.84 421.86 420.01 433.64 424.12 442.99 C428.22 452.33 433.12 463.48 437.62 473.72 C442.12 483.97 447.74 496.70 451.12 504.44 C454.49 512.19 455.62 515.01 457.87 520.20 C460.12 525.39 462.37 530.53 464.62 535.57 C466.87 540.60 469.12 545.57 471.37 550.41 C473.62 555.25 475.87 560.01 478.12 564.62 C480.37 569.23 482.62 573.72 484.87 578.08 C487.12 582.43 489.37 586.66 491.62 590.74 C493.87 594.83 496.12 598.77 498.37 602.58 C500.62 606.38 502.87 610.04 505.12 613.55 C507.37 617.07 509.62 620.44 511.87 623.68 C514.12 626.92 516.37 630.01 518.62 632.99 C520.87 635.96 523.12 638.81 525.37 641.53 C527.62 644.24 529.87 646.82 532.12 649.27 C534.37 651.73 536.62 654.06 538.87 656.25 C541.12 658.43 543.37 660.50 545.62 662.39 C547.87 664.28 550.12 666.04 552.37 667.59 C554.62 669.14 556.87 670.56 559.12 671.68 C561.37 672.80 563.62 673.71 565.87 674.30 C568.12 674.89 570.37 675.19 572.62 675.19 C574.87 675.19 577.12 674.89 579.37 674.30 C581.62 673.71 583.87 672.80 586.12 671.68 C588.37 670.56 590.62 669.14 592.87 667.59 C595.12 666.04 597.37 664.28 599.62 662.39 C601.87 660.50 604.12 658.43 606.37 656.25 C608.62 654.06 610.87 651.73 613.12 649.27 C615.37 646.82 617.62 644.24 619.87 641.53 C622.12 638.81 624.37 635.96 626.62 632.99 C628.87 630.01 631.12 626.92 633.37 623.68 C635.62 620.44 637.87 617.07 640.12 613.55 C642.37 610.04 644.62 606.38 646.87 602.58 C649.12 598.77 651.37 594.83 653.62 590.74 C655.87 586.66 658.12 582.43 660.37 578.08 C662.62 573.72 664.87 569.23 667.12 564.62 C669.37 560.01 671.62 555.25 673.87 550.41 C676.12 545.57 678.37 540.60 680.62 535.57 C682.87 530.53 685.12 525.39 687.37 520.20 C689.62 515.01 690.74 512.19 694.12 504.44 C697.49 496.70 703.12 483.97 707.62 473.72 C712.12 463.48 717.01 452.33 721.12 442.99 C725.22 433.64 730.40 421.86 732.26 417.63" fill="none" stroke="#c5304a" stroke-width="1.55"/>
<path d="M371.3 685.99 h3.0 M371.3 665.66 h6.3 M371.3 645.33 h3.0 M371.3 625.00 h6.3 M371.3 604.67 h3.0 M371.3 584.34 h6.3 M371.3 564.01 h3.0 M371.3 543.68 h6.3 M371.3 523.35 h3.0 M371.3 503.02 h6.3 M371.3 482.69 h3.0 M371.3 462.36 h6.3 M371.3 442.03 h3.0 M371.3 421.70 h6.3 M371.3 401.37 h3.0 M405.05 705.7 v-3.0 M438.80 705.7 v-6.3 M472.55 705.7 v-3.0 M506.30 705.7 v-6.3 M540.05 705.7 v-3.0 M573.80 705.7 v-6.3 M607.55 705.7 v-3.0 M641.30 705.7 v-6.3 M675.05 705.7 v-3.0 M708.80 705.7 v-6.3 M742.55 705.7 v-3.0" stroke="#3b4646" stroke-width="1.4" fill="none"/>
<rect x="371.3" y="380.0" width="405.0" height="325.7" fill="none" stroke="#3b4646" stroke-width="1.6"/>
<text class="tk" x="363.9" y="711.9" text-anchor="end">-4</text>
<text class="tk" x="363.9" y="671.3" text-anchor="end">-2</text>
<text class="tk" x="363.9" y="630.6" text-anchor="end">0</text>
<text class="tk" x="363.9" y="589.9" text-anchor="end">2</text>
<text class="tk" x="363.9" y="549.3" text-anchor="end">4</text>
<text class="tk" x="363.9" y="508.6" text-anchor="end">6</text>
<text class="tk" x="363.9" y="468.0" text-anchor="end">8</text>
<text class="tk" x="363.9" y="427.3" text-anchor="end">10</text>
<text class="tk" x="363.9" y="386.6" text-anchor="end">12</text>
<text class="tk" x="371.0" y="728.2" text-anchor="middle">-60</text>
<text class="tk" x="438.5" y="728.2" text-anchor="middle">-40</text>
<text class="tk" x="506.0" y="728.2" text-anchor="middle">-20</text>
<text class="tk" x="573.8" y="728.2" text-anchor="middle">0</text>
<text class="tk" x="641.3" y="728.2" text-anchor="middle">20</text>
<text class="tk" x="708.8" y="728.2" text-anchor="middle">40</text>
<text class="tk" x="776.3" y="728.2" text-anchor="middle">60</text>
<path d="M673.4 649.9 H706.2" stroke="#ee9c32" stroke-width="2.5" stroke-dasharray="8.8 3.3 2.4 3.3" fill="none"/>
<path d="M674.5 670.5 H709.4" stroke="#c5304a" stroke-width="1.55" fill="none"/>
<text x="717.49" y="655.50" style="font-family:'Liberation Serif',serif;font-size:16.00px;letter-spacing:0.37px" fill="#222" stroke="#222" stroke-width=".25">1.0mm</text>
<text x="717.69" y="676.30" style="font-family:'Liberation Serif',serif;font-size:16.00px;letter-spacing:0.32px" fill="#222" stroke="#222" stroke-width=".25">0.5mm</text>
<text x="452.82" y="763.40" style="font-family:'Liberation Serif','Noto Serif CJK SC',serif;font-size:22.30px;letter-spacing:0.87px;fill:#2a2a2a;stroke:#2a2a2a;stroke-width:.3px">距中心截面距离</text>
<text x="613.90" y="763.80" style="font-family:'Liberation Serif',serif;font-size:22.00px" fill="#222" stroke="#222" stroke-width=".25">/</text>
<text x="621.07" y="763.80" style="font-family:'Liberation Serif',serif;font-size:22.00px" fill="#222" stroke="#222" stroke-width=".25">D</text>
<text x="643.73" y="763.80" style="font-family:'Liberation Serif',serif;font-size:22.00px;letter-spacing:0.79px" fill="#222" stroke="#222" stroke-width=".25">(mm)</text>
<g transform="rotate(-90)">
<text x="-620.65" y="324.20" style="font-family:'Liberation Serif','Noto Serif CJK SC',serif;font-size:22.30px;letter-spacing:-0.2px;fill:#2a2a2a;stroke:#2a2a2a;stroke-width:.3px">起皱高度</text>
<text x="-532.20" y="324.40" style="font-family:'Liberation Serif',serif;font-size:24.00px" fill="#222" stroke="#222" stroke-width=".25">/</text>
<text x="-522.43" y="324.00" style="font-family:'Liberation Serif',serif;font-size:22.00px" fill="#222" stroke="#222" stroke-width=".25">H</text>
<text x="-498.97" y="324.00" style="font-family:'Liberation Serif',serif;font-size:22.00px;letter-spacing:0.72px" fill="#222" stroke="#222" stroke-width=".25">(mm)</text>
</g>
<text x="796.11" y="709.00" style="font-family:'Liberation Sans',sans-serif;font-size:30.50px;letter-spacing:-0.25px" fill="#1a1a1a">(d)</text>
</g>
<!--WATERMARK-->
<path class="wm" d="M525.1 784.8 L578.4 729.6 L827.7 470.7 L985.1 627.3 Q996 641.5 986.6 656.6 L957 686 L935.4 667.9 L950.4 651.6 Q955 645 951.2 639.9 L827.1 520.7 L776 570.6 L640 711.5 M839.7 535.3 L820.5 552.3 L839.7 588.8 L804.0 570.6 L790.6 591.2 L859.9 627.7 L897.7 703.2 L918.3 683.7 L902.5 654.5 L918.3 665.5 L936.6 647.2 L878.2 608.3 Z M790.6 591.2 L832.0 671.5 L897.7 703.2 M776.0 622.9 L788.2 646.0 L776.0 638.7 M758.9 540.0 L669.7 630.4 L798.6 760.0 M803.5 569.7 L718.0 631.7 L848.1 760.0 M751.5 619.3 L767.6 601.9 L788.7 645.3 M788.7 590.8 L835.7 670.1 L860.0 680.0 M803.5 569.7 L839.5 588.3 L820.9 551.1 L860.0 573.4 M640.0 678.8 L651.1 663.9 L744.1 760.0 M420.0 876.3 L458.1 841.2 L496.2 879.3 M525.1 784.8 L540.4 800.7 L551.6 788.5 L511.4 831.2 L502.3 822.0 M511.4 831.2 L506.8 888.1 M551.0 836.6 L554.1 888.1 M572.3 790.9 L615.0 833.6 L660.7 826.9 L630.2 794.0 L672.9 775.7 L724.7 827.5 L743.0 845.8 M630.2 730.0 L672.9 775.7" fill="none" stroke="#b2f4b2" stroke-width="1.15" stroke-linejoin="miter"/>
<!--CAPTION-->
<g class="caption">
<text x="23.04" y="819.80" style="font-family:'Liberation Sans','Noto Sans CJK SC',sans-serif;font-size:23.30px;fill:#0c0c0c;stroke:#0c0c0c;stroke-width:.3px">图</text>
<text x="52.94" y="818.00" style="font-family:'Liberation Serif',serif;font-size:22.60px" fill="#0c0c0c" stroke="#0c0c0c" stroke-width=".3">8</text>
<text x="76.13" y="818.00" style="font-family:'Liberation Serif',serif;font-size:22.60px;letter-spacing:0.02px" fill="#0c0c0c" stroke="#0c0c0c" stroke-width=".3">600</text>
<text x="110.82" y="818.00" style="font-family:'Liberation Serif',serif;font-size:22.60px" fill="#0c0c0c" stroke="#0c0c0c" stroke-width=".3">°</text>
<g transform="translate(119.6 818.0) scale(1.16 1)"><text x="-0.93" y="0.00" style="font-family:'Liberation Serif',serif;font-size:22.60px" fill="#0c0c0c" stroke="#0c0c0c" stroke-width=".3">C</text></g>
<text x="138.70" y="819.80" style="font-family:'Liberation Sans','Noto Sans CJK SC',sans-serif;font-size:23.30px;letter-spacing:0.32px;fill:#0c0c0c;stroke:#0c0c0c;stroke-width:.3px">不同厚度</text>
<text x="239.19" y="818.00" style="font-family:'Liberation Serif',serif;font-size:22.60px;letter-spacing:0.69px" fill="#0c0c0c" stroke="#0c0c0c" stroke-width=".3">TC4</text>
<text x="288.66" y="819.80" style="font-family:'Liberation Sans','Noto Sans CJK SC',sans-serif;font-size:23.30px;letter-spacing:0.38px;fill:#0c0c0c;stroke:#0c0c0c;stroke-width:.3px">结果对比：</text>
<text x="407.44" y="818.40" style="font-family:'Liberation Serif','Noto Serif CJK SC',serif;font-size:21.60px;fill:#0c0c0c;stroke:#0c0c0c;stroke-width:.3px">（</text>
<text x="431.41" y="818.00" style="font-family:'Liberation Serif',serif;font-size:22.60px" fill="#0c0c0c" stroke="#0c0c0c" stroke-width=".3">a</text>
<text x="446.54" y="818.40" style="font-family:'Liberation Serif','Noto Serif CJK SC',serif;font-size:21.60px;fill:#0c0c0c;stroke:#0c0c0c;stroke-width:.3px">）</text>
<text x="466.74" y="818.00" style="font-family:'Liberation Serif',serif;font-size:22.60px;letter-spacing:0.85px" fill="#0c0c0c" stroke="#0c0c0c" stroke-width=".3">0.5mm</text>
<text x="535.29" y="819.20" style="font-family:'Liberation Serif','Noto Serif CJK SC',serif;font-size:23.30px;fill:#0c0c0c">、</text>
<text x="557.95" y="818.00" style="font-family:'Liberation Serif',serif;font-size:22.60px;letter-spacing:0.62px" fill="#0c0c0c" stroke="#0c0c0c" stroke-width=".3">l=85mm</text>
<text x="640.54" y="818.40" style="font-family:'Liberation Serif','Noto Serif CJK SC',serif;font-size:21.60px;fill:#0c0c0c;stroke:#0c0c0c;stroke-width:.3px">（</text>
<text x="664.60" y="818.00" style="font-family:'Liberation Serif',serif;font-size:22.60px" fill="#0c0c0c" stroke="#0c0c0c" stroke-width=".3">b</text>
<text x="679.64" y="818.40" style="font-family:'Liberation Serif','Noto Serif CJK SC',serif;font-size:21.60px;fill:#0c0c0c;stroke:#0c0c0c;stroke-width:.3px">）</text>
<text x="700.41" y="818.00" style="font-family:'Liberation Serif',serif;font-size:22.60px;letter-spacing:0.58px" fill="#0c0c0c" stroke="#0c0c0c" stroke-width=".3">1.0mm</text>
<text x="768.29" y="819.20" style="font-family:'Liberation Serif','Noto Serif CJK SC',serif;font-size:23.30px;fill:#0c0c0c">、</text>
<text x="790.95" y="818.00" style="font-family:'Liberation Serif',serif;font-size:22.60px;letter-spacing:0.64px" fill="#0c0c0c" stroke="#0c0c0c" stroke-width=".3">l=85mm</text>
<text x="872.44" y="818.40" style="font-family:'Liberation Serif','Noto Serif CJK SC',serif;font-size:21.60px;fill:#0c0c0c;stroke:#0c0c0c;stroke-width:.3px">（</text>
<text x="895.94" y="818.00" style="font-family:'Liberation Serif',serif;font-size:22.60px" fill="#0c0c0c" stroke="#0c0c0c" stroke-width=".3">c</text>
<text x="910.34" y="818.40" style="font-family:'Liberation Serif','Noto Serif CJK SC',serif;font-size:21.60px;fill:#0c0c0c;stroke:#0c0c0c;stroke-width:.3px">）</text>
<text x="931.61" y="818.00" style="font-family:'Liberation Serif',serif;font-size:22.60px;letter-spacing:0.48px" fill="#0c0c0c" stroke="#0c0c0c" stroke-width=".3">1.0mm</text>
<text x="999.09" y="819.20" style="font-family:'Liberation Serif','Noto Serif CJK SC',serif;font-size:23.30px;fill:#0c0c0c">、</text>
<text x="1020.35" y="818.00" style="font-family:'Liberation Serif',serif;font-size:22.60px;letter-spacing:1.04px" fill="#0c0c0c" stroke="#0c0c0c" stroke-width=".3">l=75mm</text>
<text x="485.84" y="871.90" style="font-family:'Liberation Serif','Noto Serif CJK SC',serif;font-size:21.60px;fill:#0c0c0c;stroke:#0c0c0c;stroke-width:.3px">（</text>
<text x="509.38" y="871.50" style="font-family:'Liberation Serif',serif;font-size:22.60px" fill="#0c0c0c" stroke="#0c0c0c" stroke-width=".3">d</text>
<text x="524.84" y="871.90" style="font-family:'Liberation Serif','Noto Serif CJK SC',serif;font-size:21.60px;fill:#0c0c0c;stroke:#0c0c0c;stroke-width:.3px">）</text>
<text x="546.10" y="873.30" style="font-family:'Liberation Sans','Noto Sans CJK SC',sans-serif;font-size:23.30px;letter-spacing:0.36px;fill:#0c0c0c;stroke:#0c0c0c;stroke-width:.3px">截面形状</text>
</g>
</g>
</svg>
</figure>
</body>
</html>
